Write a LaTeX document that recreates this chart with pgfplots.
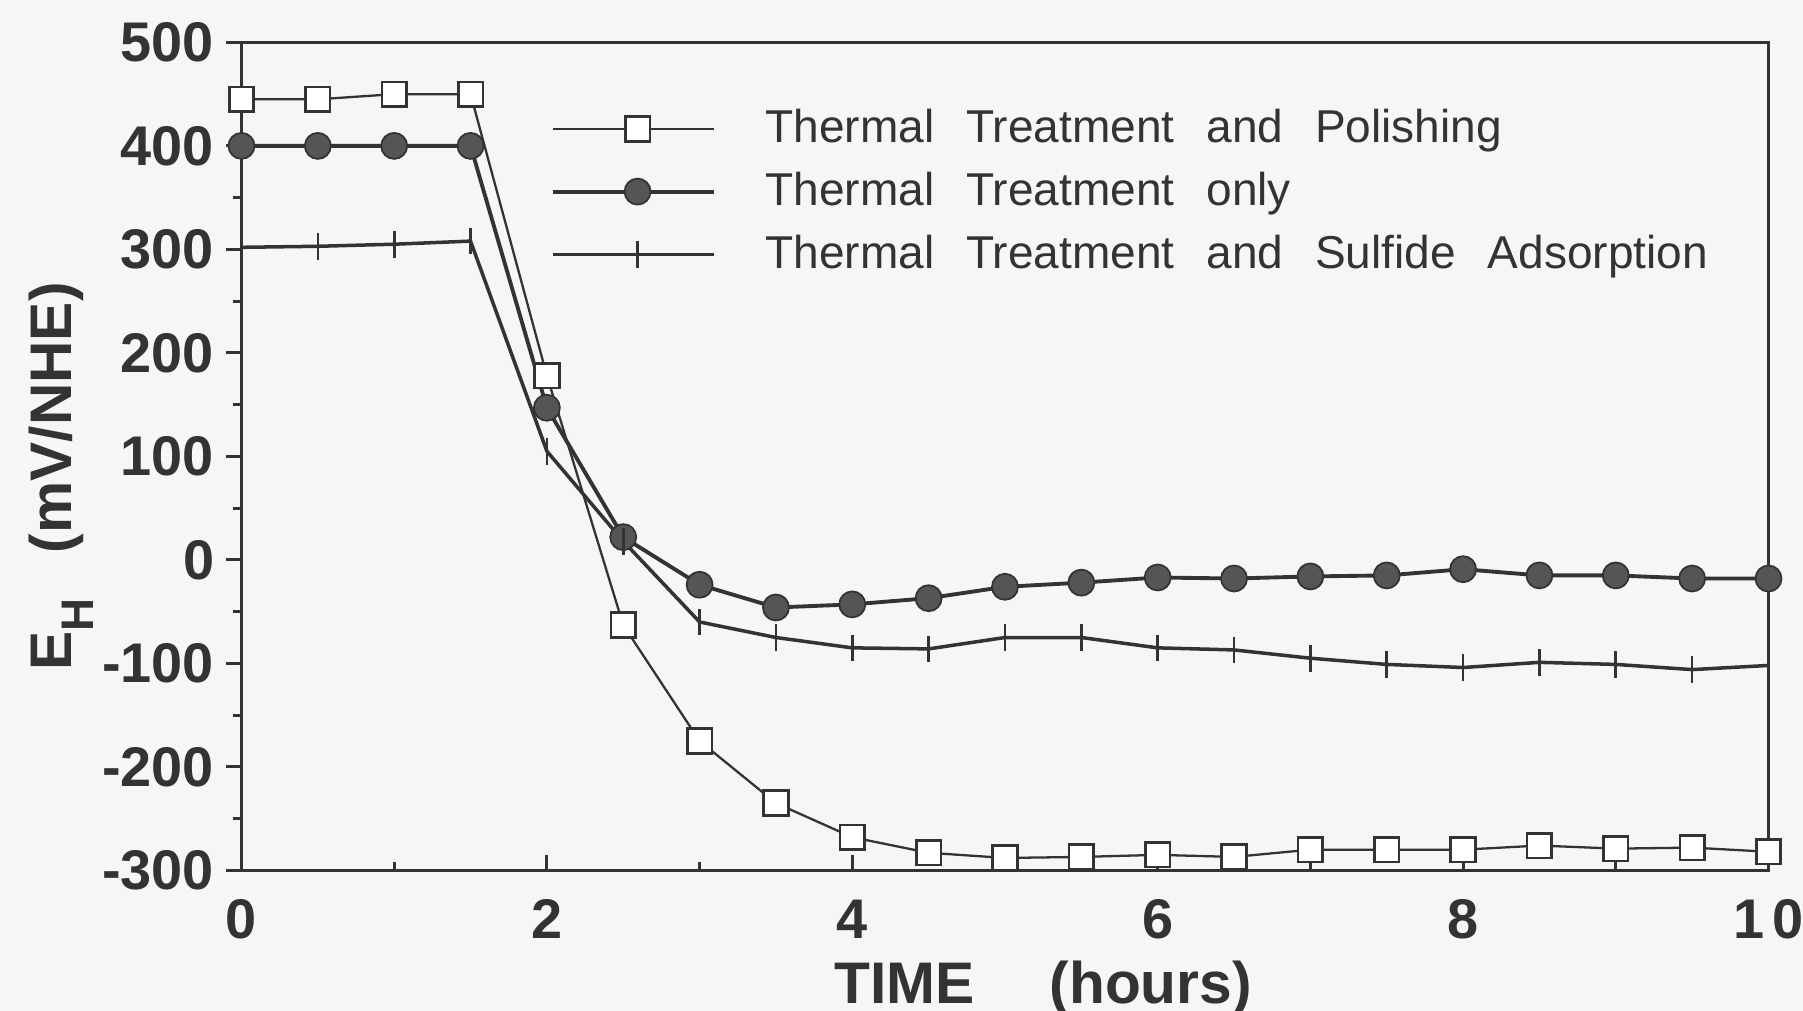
\documentclass[border=0pt]{standalone}
\usepackage{pgfplots}
\pgfplotsset{compat=1.18}
\usepackage{fontspec}
\setmainfont{Liberation Sans}
\newfontfamily\legfont[WordSpace=2.5]{Liberation Sans}
\definecolor{ink}{HTML}{333333}
\definecolor{dot}{HTML}{555555}
\definecolor{paper}{HTML}{F6F6F6}

\begin{document}
\begin{tikzpicture}
\useasboundingbox[fill=paper] (0,0) rectangle (18.03,10.11);
\begin{axis}[
    at={(2.415cm,1.406cm)}, anchor=south west,
    width=15.27cm, height=8.28cm, scale only axis,
    xmin=0, xmax=10, ymin=-300, ymax=500,
    axis line style={ink, line width=0.9pt},
    xtick={0,2,4,6,8,10},
    xticklabels={0,2,4,6,8,1\hspace{0.08cm}0},
    minor xtick={1,3,5,7,9},
    ytick={-300,-200,-100,0,100,200,300,400,500},
    yticklabels={-300,-200,-100,0,100,200,300,400,500},
    minor ytick={-250,-150,-50,50,150,250,350,450},
    xtick pos=bottom, ytick pos=left,
    x tick style={ink, line width=0.9pt},
    y tick style={ink, line width=0.9pt},
    xtick align=inside, ytick align=outside,
    major tick length=0.15cm, minor tick length=0.08cm,
    ticklabel style={font=\fontsize{15.9}{18}\selectfont\bfseries, text=ink},
    xticklabel style={yshift=-0.17cm},
    xlabel={TIME\hspace{0.75cm}(hours)},
    xlabel style={at={(axis description cs:0.525,-0.142)}, anchor=center, font=\fontsize{16.7}{19}\selectfont\bfseries, text=ink},
    ylabel={E\raisebox{-0.22cm}{\fontsize{13}{13}\selectfont H}\hspace{0.45cm}(mV/NHE)},
    ylabel style={at={(axis description cs:-0.118,0.476)}, anchor=center, rotate=0, font=\fontsize{16.7}{19}\selectfont\bfseries, text=ink},
    legend style={at={(axis description cs:0.202,0.9282)}, anchor=north west,
        draw=none, fill=none, inner sep=0pt, row sep=0.1cm,
        font=\legfont\fontsize{13.1}{15}\selectfont, text=ink,
        /tikz/every odd column/.append style={column sep=0.43cm}},
    legend cell align=left,
    legend image code/.code={\draw[mark repeat=2,mark phase=2,#1] plot coordinates {(0cm,0cm) (0.85cm,0cm) (1.61cm,0cm)};},
]
\addplot[ink, line width=0.65pt, mark=square*, mark size=3.5pt, mark options={fill=white, draw=ink, line width=0.75pt}] coordinates {
(0,445) (0.5,445) (1,450) (1.5,450) (2,178) (2.5,-63) (3,-175) (3.5,-235) (4,-268) (4.5,-283)
(5,-288) (5.5,-287) (6,-285) (6.5,-287) (7,-280) (7.5,-280) (8,-280) (8.5,-276) (9,-279) (9.5,-278) (10,-282)};
\addlegendentry{Thermal Treatment and Polishing}
\addplot[ink, line width=1.1pt, mark=*, mark size=3.7pt, mark options={fill=dot, draw=ink, line width=0.5pt}] coordinates {
(0,400) (0.5,400) (1,400) (1.5,400) (2,147) (2.5,22) (3,-24) (3.5,-46) (4,-43) (4.5,-37)
(5,-26) (5.5,-22) (6,-17) (6.5,-18) (7,-16) (7.5,-15) (8,-9) (8.5,-15) (9,-15) (9.5,-18) (10,-18)};
\addlegendentry{Thermal Treatment only}
\addplot[ink, line width=1pt, mark=|, mark size=3.8pt, mark options={ink, line width=0.75pt}] coordinates {
(0,302) (0.5,303) (1,305) (1.5,308) (2,105) (2.5,18) (3,-60) (3.5,-75) (4,-85) (4.5,-86)
(5,-75) (5.5,-75) (6,-85) (6.5,-87) (7,-95) (7.5,-101) (8,-104) (8.5,-99) (9,-101) (9.5,-106) (10,-102)};
\addlegendentry{Thermal Treatment and Sulfide Adsorption}
\end{axis}
\end{tikzpicture}
\end{document}
